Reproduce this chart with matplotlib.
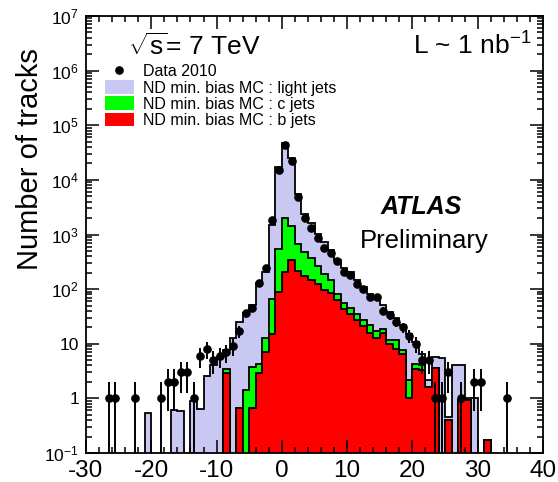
import numpy as np
import matplotlib
matplotlib.use("Agg")
import matplotlib.pyplot as plt
from matplotlib.patches import Patch
from matplotlib.lines import Line2D
from matplotlib.ticker import FixedLocator, FuncFormatter, MultipleLocator

plt.rcParams["font.family"] = ["Liberation Sans", "DejaVu Sans"]
plt.rcParams["mathtext.fontset"] = "custom"
plt.rcParams["mathtext.rm"] = "Liberation Sans"
plt.rcParams["mathtext.it"] = "Liberation Sans:italic"
plt.rcParams["mathtext.bf"] = "Liberation Sans:bold"
plt.rcParams["axes.unicode_minus"] = False

# MC histogram: unit-width bins from -21 to 32
bin_edges = np.arange(-21, 33)

light_jets = [0.54, 0, 0, 0, 0.6, 0.58, 0, 0.88, 0.65, 2.6, 4.0, 5.7,
              4.1, 13, 24.3, 34.5, 48.3, 125.7, 192, 1435, 16450, 45000,
              23550, 4920, 1930, 1230, 770, 530, 365, 257, 184, 164, 111,
              83, 61, 55, 32, 26.3, 17.5, 14.4, 12.8, 6.5, 2.6, 0.6, 2.1,
              5.5, 0.06, 4.0, 3.08, 0.08, 1.0, 0, 0]
c_jets = [0, 0, 0, 0, 0, 0, 0, 0, 0, 0, 0, 0,
          0.6, 0, 0, 1.45, 3.0, 1.35, 6, 50, 460, 1790,
          1110, 465, 295, 222, 146, 94, 66, 21, 13, 11, 8,
          6, 6, 4.5, 3, 1.7, 3.5, 1.1, 1.2, 0.8, 0.7, 0, 0,
          0, 0, 0, 0, 0, 0, 0, 0]
b_jets = [0, 0, 0, 0, 0, 0, 0, 0, 0, 0, 0, 0,
          2.9, 0, 0.68, 0, 0.68, 2.95, 7, 15, 89, 210,
          336, 215, 175, 148, 124, 96, 84, 62, 43, 35, 27,
          21, 16, 12.5, 16, 10, 8, 6.5, 1.0, 3.5, 3.3, 1.6, 3.6,
          0, 0.4, 0, 0.92, 0.92, 0, 0, 0.17]

# Data 2010 (bin centres and track counts)
data_x = [-26.5, -25.5, -22.5, -18.5, -17.5, -16.5, -15.5, -14.5, -13.5,
          -12.5, -11.5, -10.5, -9.5, -8.5, -7.5, -6.5, -5.5, -4.5, -3.5,
          -2.5, -1.5, -0.5, 0.5, 1.5, 2.5, 3.5, 4.5, 5.5, 6.5, 7.5, 8.5,
          9.5, 10.5, 11.5, 12.5, 13.5, 14.5, 15.5, 16.5, 17.5, 18.5, 19.5,
          20.5, 21.5, 22.5, 23.5, 24.5, 25.5, 27.5, 29.5, 30.5, 34.5]
data_n = [1, 1, 1, 1, 2, 2, 3, 3, 1,
          6, 8, 5, 6, 7, 9, 17, 36, 46, 129,
          240, 1850, 15000, 44000, 22000, 4900, 2000, 1300, 870, 575, 460, 330,
          210, 183, 126, 102, 72, 72, 40, 33, 25, 20, 14,
          10, 5, 5, 1, 1, 3, 1, 2, 2, 1]

legend_labels = ["Data 2010",
                 "ND min. bias MC : light jets",
                 "ND min. bias MC : c jets",
                 "ND min. bias MC : b jets"]

LIGHT_COLOR = "#c8c8f3"
C_COLOR = "#00ff00"
B_COLOR = "#ff0000"
FLOOR = 1e-3

fig = plt.figure(figsize=(5.58, 4.82), dpi=100)
ax = fig.add_axes([86 / 558, 29 / 482, 457 / 558, 437 / 482])
ax.set_yscale("log")

b = np.array(b_jets, dtype=float)
cb = b + np.array(c_jets, dtype=float)
total = cb + np.array(light_jets, dtype=float)

# stacked histograms, drawn back to front
for vals, col in [(total, LIGHT_COLOR), (cb, C_COLOR), (b, B_COLOR)]:
    v = np.where(vals > 0, vals, FLOOR)
    ax.stairs(v, bin_edges, baseline=FLOOR, fill=True, facecolor=col,
              edgecolor="none")
    ax.stairs(v, bin_edges, baseline=FLOOR, color="black", linewidth=1.3)

n = np.array(data_n, dtype=float)
err = np.sqrt(n)
err_lo = np.where(n - err <= 0, n - FLOOR, err)
ax.errorbar(data_x, n, yerr=[err_lo, err], fmt="o", color="black",
            ms=5.2, elinewidth=1.4, capsize=0, zorder=5)

ax.set_xlim(-30, 40)
ax.set_ylim(0.1, 1e7)

# axis ticks
ax.xaxis.set_major_locator(MultipleLocator(10))
ax.xaxis.set_minor_locator(MultipleLocator(2))
ax.yaxis.set_major_locator(FixedLocator([10.0 ** k for k in range(-1, 8)]))
ax.yaxis.set_minor_locator(FixedLocator(
    [m * 10.0 ** k for k in range(-1, 7) for m in range(2, 10)]))


def fmt_pow(v, pos):
    k = int(round(np.log10(v)))
    if k == 0:
        return "1"
    if k == 1:
        return "10"
    return r"$10^{%d}$" % k


ax.yaxis.set_major_formatter(FuncFormatter(fmt_pow))
ax.tick_params(which="both", direction="in", top=True, right=True, width=1.1)
ax.tick_params(which="major", length=9.5)
ax.tick_params(which="minor", length=4.5)
ax.tick_params(axis="x", labelsize=17.5, pad=5)
ax.tick_params(axis="y", labelsize=12.5, pad=5)
for s in ax.spines.values():
    s.set_linewidth(1.3)

fig.text(30 / 558, 1 - 159 / 482, "Number of tracks", rotation=90,
         ha="center", va="center", fontsize=21)

ax.text(0.092, 0.911, r"$\sqrt{\rm s}$= 7 TeV", transform=ax.transAxes,
        fontsize=19, va="baseline")
ax.text(0.716, 0.911, r"L ~ 1 $\rm nb^{-1}$", transform=ax.transAxes,
        fontsize=19, va="baseline")
ax.text(0.733, 0.547, "ATLAS", transform=ax.transAxes, fontsize=18,
        fontweight="bold", fontstyle="italic", ha="center", va="baseline")
ax.text(0.740, 0.469, "Preliminary", transform=ax.transAxes, fontsize=18.5,
        ha="center", va="baseline")

handles = [Line2D([], [], marker="o", color="black", ls="none", ms=5.2),
           Patch(facecolor=LIGHT_COLOR, edgecolor="none"),
           Patch(facecolor=C_COLOR, edgecolor="none"),
           Patch(facecolor=B_COLOR, edgecolor="none")]
ax.legend(handles, legend_labels, loc="upper left",
          bbox_to_anchor=(0.0416, 0.89), bbox_transform=ax.transAxes,
          frameon=False, fontsize=11.5, borderpad=0, borderaxespad=0,
          handlelength=1.8, handleheight=0.95, labelspacing=0.05,
          handletextpad=0.56)

fig.savefig("out.png", dpi=100)
plt.close(fig)
